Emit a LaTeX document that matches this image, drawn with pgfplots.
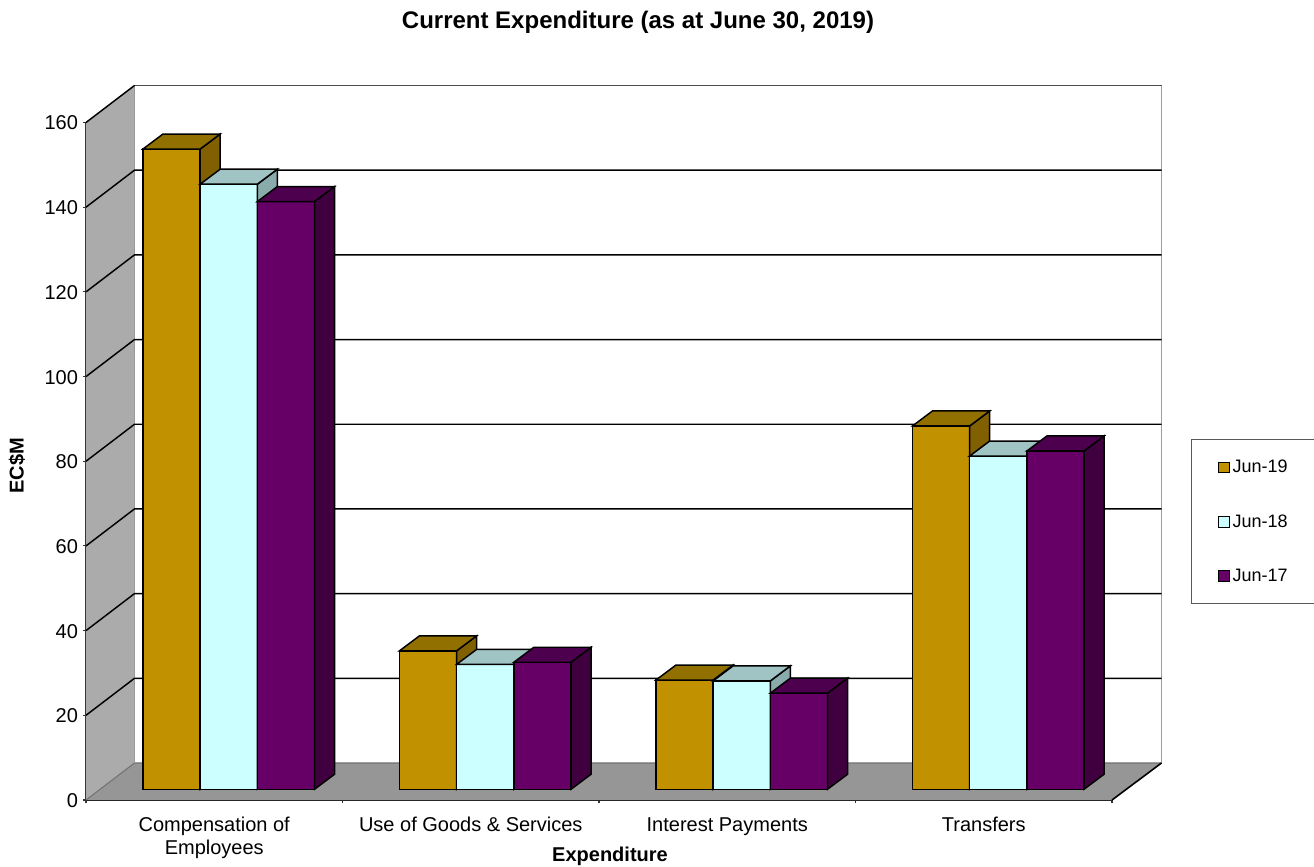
\documentclass[border=0pt]{standalone}
\usepackage{fontspec}
\setmainfont{Liberation Sans}
\usepackage{pgfplots}
\usepackage{pgfplotstable}
\pgfplotsset{compat=1.18}

\definecolor{goldF}{HTML}{C29100}
\definecolor{goldT}{HTML}{927000}
\definecolor{goldS}{HTML}{806000}
\definecolor{cyanF}{HTML}{CCFFFF}
\definecolor{cyanT}{HTML}{A0C4C4}
\definecolor{cyanS}{HTML}{8AABAB}
\definecolor{plumF}{HTML}{660066}
\definecolor{plumT}{HTML}{4D004D}
\definecolor{plumS}{HTML}{400040}
\definecolor{wallL}{HTML}{ABABAB}
\definecolor{floorC}{HTML}{969696}

% Expenditure in EC$M, one column per year
\pgfplotstableread{
pos jun19 jun18 jun17
0   151.2 142.9 138.8
1   32.7  29.5  30.0
2   25.8  25.6  22.7
3   85.8  78.7  79.9
}\spending

% Side and top faces of a bar: the mark origin is the middle of the front top edge
\newcommand\depthmark[3]{%
  \pgfdeclareplotmark{#1}{%
    \pgfmathsetlengthmacro\barh{\barval*3.1755pt}%
    \pgfsetlinewidth{1.1pt}%
    \pgfsetstrokecolor{black}%
    \pgfsetfillcolor{#3}%
    \pgfpathmoveto{\pgfqpoint{21.45pt}{0pt}}%
    \pgfpathlineto{\pgfqpoint{36.45pt}{11.25pt}}%
    \pgfpathlineto{\pgfpoint{36.45pt}{11.25pt-\barh}}%
    \pgfpathlineto{\pgfpoint{21.45pt}{-\barh}}%
    \pgfpathclose
    \pgfusepathqfillstroke
    \pgfsetfillcolor{#2}%
    \pgfpathmoveto{\pgfqpoint{-21.45pt}{0pt}}%
    \pgfpathlineto{\pgfqpoint{21.45pt}{0pt}}%
    \pgfpathlineto{\pgfqpoint{36.45pt}{11.25pt}}%
    \pgfpathlineto{\pgfqpoint{-6.45pt}{11.25pt}}%
    \pgfpathclose
    \pgfusepathqfillstroke
  }%
}
\depthmark{depth19}{goldT}{goldS}
\depthmark{depth18}{cyanT}{cyanS}
\depthmark{depth17}{plumT}{plumS}

\pgfplotsset{
  front face/.style={ybar, bar width=42.9pt, bar shift=0pt, draw=black, line width=1.1pt, fill=#1,
    legend image code/.code={\path[draw=black, line width=0.85pt, fill=#1] (0pt,-4pt) rectangle (8pt,4pt);}},
  depth faces/.style={scatter, only marks, mark=#1, forget plot, visualization depends on={rawy\as\barval}},
}

\begin{document}
\begin{tikzpicture}
\path[use as bounding box] (-64.5pt,-50.25pt) rectangle (921pt,600pt);

% Walls, floor, gridlines and axes
\begin{axis}[
  at={(0pt,0pt)}, anchor=south west,
  scale only axis, width=769.5pt, height=508.125pt,
  xmin=0, xmax=1026, ymin=0, ymax=160,
  clip=false,
  axis x line=bottom, axis y line=left,
  axis line style={-, line width=1.1pt, draw=black!85},
  tick style={line width=0.8pt, draw=black!80},
  major tick length=5pt,
  xtick={0,256.5,513,769.5,1026},
  x tick label as interval,
  xticklabels={{Compensation of\\Employees},{Use of Goods \& Services},{Interest Payments},{Transfers}},
  typeset ticklabels with strut,
  xticklabel style={align=center, font=\fontsize{15}{17.25}\selectfont, yshift=-5.75pt},
  ytick={0,20,...,160},
  yticklabel style={font=\fontsize{15}{18}\selectfont, yshift=-2pt, /pgf/number format/assume math mode=true},
  title={\bfseries Current Expenditure (as at June 30, 2019)},
  title style={at={(axis cs:552,181.8)}, anchor=center, font=\fontsize{18}{22}\selectfont},
  xlabel={\bfseries Expenditure},
  xlabel style={at={(axis cs:524,-13.2)}, anchor=center, font=\fontsize{15}{18}\selectfont},
  ylabel={\bfseries EC\$M},
  ylabel style={at={(axis cs:-69,78.9)}, anchor=center, rotate=0, font=\fontsize{15}{18}\selectfont},
]
\addplot[fill=wallL, draw=none] coordinates {(0,0) (0,160) (48.5,168.74) (48.5,8.74)} -- cycle;
\addplot[fill=floorC, draw=none] coordinates {(0,0) (48.5,8.74) (1075.5,8.74) (1026,0)} -- cycle;
\addplot[draw=black!55, line width=0.8pt] coordinates {(0,0) (48.5,8.74) (1075.5,8.74)};
\addplot[draw=black!40, line width=1pt] coordinates {(48.5,8.74) (48.5,168.74)};
\addplot[draw=black!38, line width=1.4pt] coordinates {(1075.5,168.74) (1075.5,8.74)};
\addplot[draw=black, line width=1.2pt] coordinates {(1026,0) (1075.5,8.74)};
\addplot[draw=black!70, line width=1.2pt] coordinates {(48.5,168.74) (1075.5,168.74)};
\addplot[draw=black, line width=1.1pt] coordinates {(0,160) (48.5,168.74)};
\addplot[draw=black, line width=1.1pt] coordinates {(0,20)  (48.5,28.74)  (1075.5,28.74)};
\addplot[draw=black, line width=1.1pt] coordinates {(0,40)  (48.5,48.74)  (1075.5,48.74)};
\addplot[draw=black, line width=1.1pt] coordinates {(0,60)  (48.5,68.74)  (1075.5,68.74)};
\addplot[draw=black, line width=1.1pt] coordinates {(0,80)  (48.5,88.74)  (1075.5,88.74)};
\addplot[draw=black, line width=1.1pt] coordinates {(0,100) (48.5,108.74) (1075.5,108.74)};
\addplot[draw=black, line width=1.1pt] coordinates {(0,120) (48.5,128.74) (1075.5,128.74)};
\addplot[draw=black, line width=1.1pt] coordinates {(0,140) (48.5,148.74) (1075.5,148.74)};
\end{axis}

% The bars stand on the floor, a little behind the front edge
\begin{axis}[
  at={(10.875pt,8.025pt)}, anchor=south west,
  scale only axis, width=769.5pt, height=508.125pt,
  xmin=-0.5, xmax=3.5, ymin=0, ymax=160,
  clip=false, clip mode=individual, hide axis,
  legend style={
    at={(1.0629,0.5170)}, anchor=north west,
    draw=black!65, line width=0.8pt,
    font=\fontsize{13.5}{16}\selectfont,
    inner xsep=20pt, inner ysep=13.5pt,
    /tikz/row sep=25.75pt,
    /tikz/column sep=0pt,
  },
  legend cell align=left,
]
\addplot[front face=goldF] table[x expr=\thisrow{pos}-0.223, y=jun19] {\spending};
\addlegendentry{Jun-19}
\addplot[depth faces=depth19] table[x expr=\thisrow{pos}-0.223, y=jun19] {\spending};
\addplot[front face=cyanF] table[x=pos, y=jun18] {\spending};
\addlegendentry{Jun-18}
\addplot[depth faces=depth18] table[x=pos, y=jun18] {\spending};
\addplot[front face=plumF] table[x expr=\thisrow{pos}+0.223, y=jun17] {\spending};
\addlegendentry{Jun-17}
\addplot[depth faces=depth17] table[x expr=\thisrow{pos}+0.223, y=jun17] {\spending};
\end{axis}
\end{tikzpicture}
\end{document}
